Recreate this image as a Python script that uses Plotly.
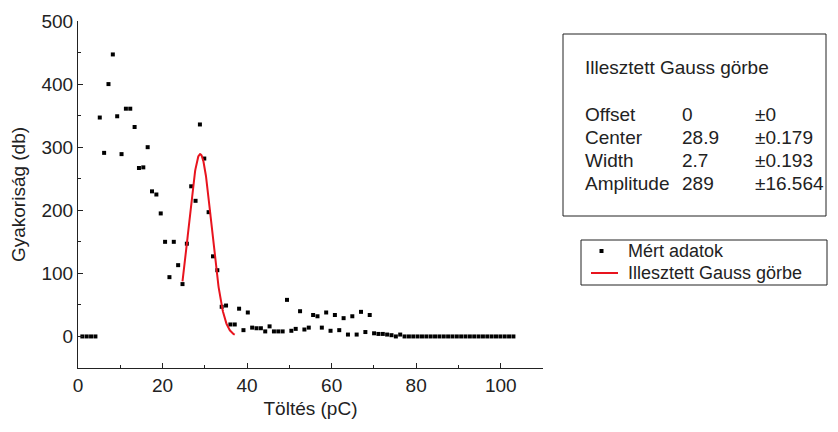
import plotly.graph_objects as go
import numpy as np

# ---- data ----
charge_pc = [1.03, 2.06, 3.09, 4.12, 5.15, 6.18, 7.21, 8.24, 9.27, 10.3,
             11.33, 12.36, 13.39, 14.42, 15.45, 16.48, 17.51, 18.54, 19.57, 20.6,
             21.63, 22.66, 23.69, 24.72, 25.75, 26.78, 27.81, 28.84, 29.87, 30.9,
             31.93, 32.96, 33.99, 35.02, 36.05, 37.08, 38.11, 39.14, 40.17, 41.2,
             42.23, 43.26, 44.29, 45.32, 46.35, 47.38, 48.41, 49.44, 50.47, 51.5,
             52.53, 53.56, 54.59, 55.62, 56.65, 57.68, 58.71, 59.74, 60.77, 61.8,
             62.83, 63.86, 64.89, 65.92, 66.95, 67.98, 69.01, 70.04, 71.07, 72.1,
             73.13, 74.16, 75.19, 76.22, 77.25, 78.28, 79.31, 80.34, 81.37, 82.4,
             83.43, 84.46, 85.49, 86.52, 87.55, 88.58, 89.61, 90.64, 91.67, 92.7,
             93.73, 94.76, 95.79, 96.82, 97.85, 98.88, 99.91, 100.94, 101.97, 103.0]
counts = [0, 0, 0, 0, 347, 291, 400, 447, 349, 289,
          361, 361, 332, 267, 268, 300, 230, 225, 195, 150,
          94, 150, 113, 83, 147, 238, 215, 336, 282, 197,
          127, 105, 47, 49, 19, 19, 44, 10, 38, 14,
          13, 13, 8, 16, 8, 8, 8, 58, 9, 12,
          40, 11, 14, 34, 32, 14, 38, 9, 34, 10,
          29, 3, 32, 3, 39, 7, 34, 5, 4, 4,
          3, 2, 0, 3, 0, 0, 0, 0, 0, 0,
          0, 0, 0, 0, 0, 0, 0, 0, 0, 0,
          0, 0, 0, 0, 0, 0, 0, 0, 0, 0]

series_names = ["Mért adatok", "Illesztett Gauss görbe"]

# fit parameters (Gauss)
fit_title = "Illesztett Gauss görbe"
fit_names = ["Offset", "Center", "Width", "Amplitude"]
fit_values = ["0", "28.9", "2.7", "289"]
fit_errors = ["±0", "±0.179", "±0.193", "±16.564"]
fit_offset, fit_center, fit_width, fit_amp = 0.0, 28.9, 2.7, 289.0
fit_range = [24.72, 37.08]

xf = np.linspace(fit_range[0], fit_range[1], 200)
yf = fit_offset + fit_amp * np.exp(-((xf - fit_center) ** 2) / (2 * fit_width ** 2))

FONT = "Liberation Sans, Arial, sans-serif"
TXT = "#222222"
RED = "#e8141e"
FS = 19

W, H = 838, 432
L, R, T, B = 78, 295, 21, 64
PW, PH = W - L - R, H - T - B


def px(xp):
    return (xp - L) / PW


def py(yp):
    return (H - B - yp) / PH


fig = go.Figure()
fig.add_trace(go.Scatter(x=charge_pc, y=counts, mode="markers", name=series_names[0],
                         marker=dict(symbol="square", size=4, color="black",
                                     line=dict(width=0))))
fig.add_trace(go.Scatter(x=xf, y=yf, mode="lines", name=series_names[1],
                         line=dict(color=RED, width=2)))

axis_common = dict(showgrid=False, zeroline=False, showline=True, linecolor="#222222",
                   linewidth=1, ticks="inside", ticklen=5, tickcolor="#222222",
                   tickfont=dict(family=FONT, size=FS, color=TXT))

fig.update_xaxes(range=[0, 110], tick0=0, dtick=20,
                 minor=dict(ticks="inside", ticklen=3, dtick=10, tickcolor="#222222"),
                 title=dict(text="Töltés (pC)", font=dict(family=FONT, size=FS, color=TXT),
                            standoff=6),
                 **axis_common)
fig.update_yaxes(range=[-50, 500], tick0=0, dtick=100,
                 minor=dict(ticks="inside", ticklen=3, dtick=50, tickcolor="#222222"),
                 title=dict(text="Gyakoriság (db)", font=dict(family=FONT, size=FS, color=TXT),
                            standoff=10),
                 **axis_common)

# fit results box
box_l, box_r, box_t, box_b = 563, 826, 34, 216
fig.add_shape(type="rect", xref="paper", yref="paper",
              x0=px(box_l), x1=px(box_r), y0=py(box_b), y1=py(box_t),
              line=dict(color="#222222", width=1), fillcolor="white")
fig.add_annotation(xref="paper", yref="paper", x=px(583), y=py(67), xanchor="left",
                   yanchor="middle", text=fit_title, showarrow=False,
                   font=dict(family=FONT, size=FS, color=TXT))
row_y = [114, 137, 160, 183]
for name, val, err, yy in zip(fit_names, fit_values, fit_errors, row_y):
    for text, xx in ((name, 583), (val, 680), (err, 753)):
        fig.add_annotation(xref="paper", yref="paper", x=px(xx), y=py(yy), xanchor="left",
                           yanchor="middle", text=text, showarrow=False,
                           font=dict(family=FONT, size=FS, color=TXT))

# legend box (drawn to match the original's compact layout)
leg_l, leg_r, leg_t, leg_b = 581, 827, 240, 285
leg_rows = [251, 273]
fig.add_shape(type="rect", xref="paper", yref="paper",
              x0=px(leg_l), x1=px(leg_r), y0=py(leg_b), y1=py(leg_t),
              line=dict(color="#222222", width=1), fillcolor="white")
fig.add_shape(type="rect", xref="paper", yref="paper",
              x0=px(599.5), x1=px(603.5), y0=py(leg_rows[0] + 2), y1=py(leg_rows[0] - 2),
              line=dict(width=0), fillcolor="black")
fig.add_shape(type="line", xref="paper", yref="paper",
              x0=px(591), x1=px(618), y0=py(leg_rows[1]), y1=py(leg_rows[1]),
              line=dict(color=RED, width=2))
for text, yy in zip(series_names, leg_rows):
    fig.add_annotation(xref="paper", yref="paper", x=px(627), y=py(yy), xanchor="left",
                       yanchor="middle", text=text, showarrow=False, borderpad=0,
                       font=dict(family=FONT, size=18, color=TXT))

fig.update_layout(
    width=W, height=H,
    margin=dict(l=L, r=R, t=T, b=B),
    paper_bgcolor="white", plot_bgcolor="white",
    showlegend=False,
)

fig.write_html("out.html")
